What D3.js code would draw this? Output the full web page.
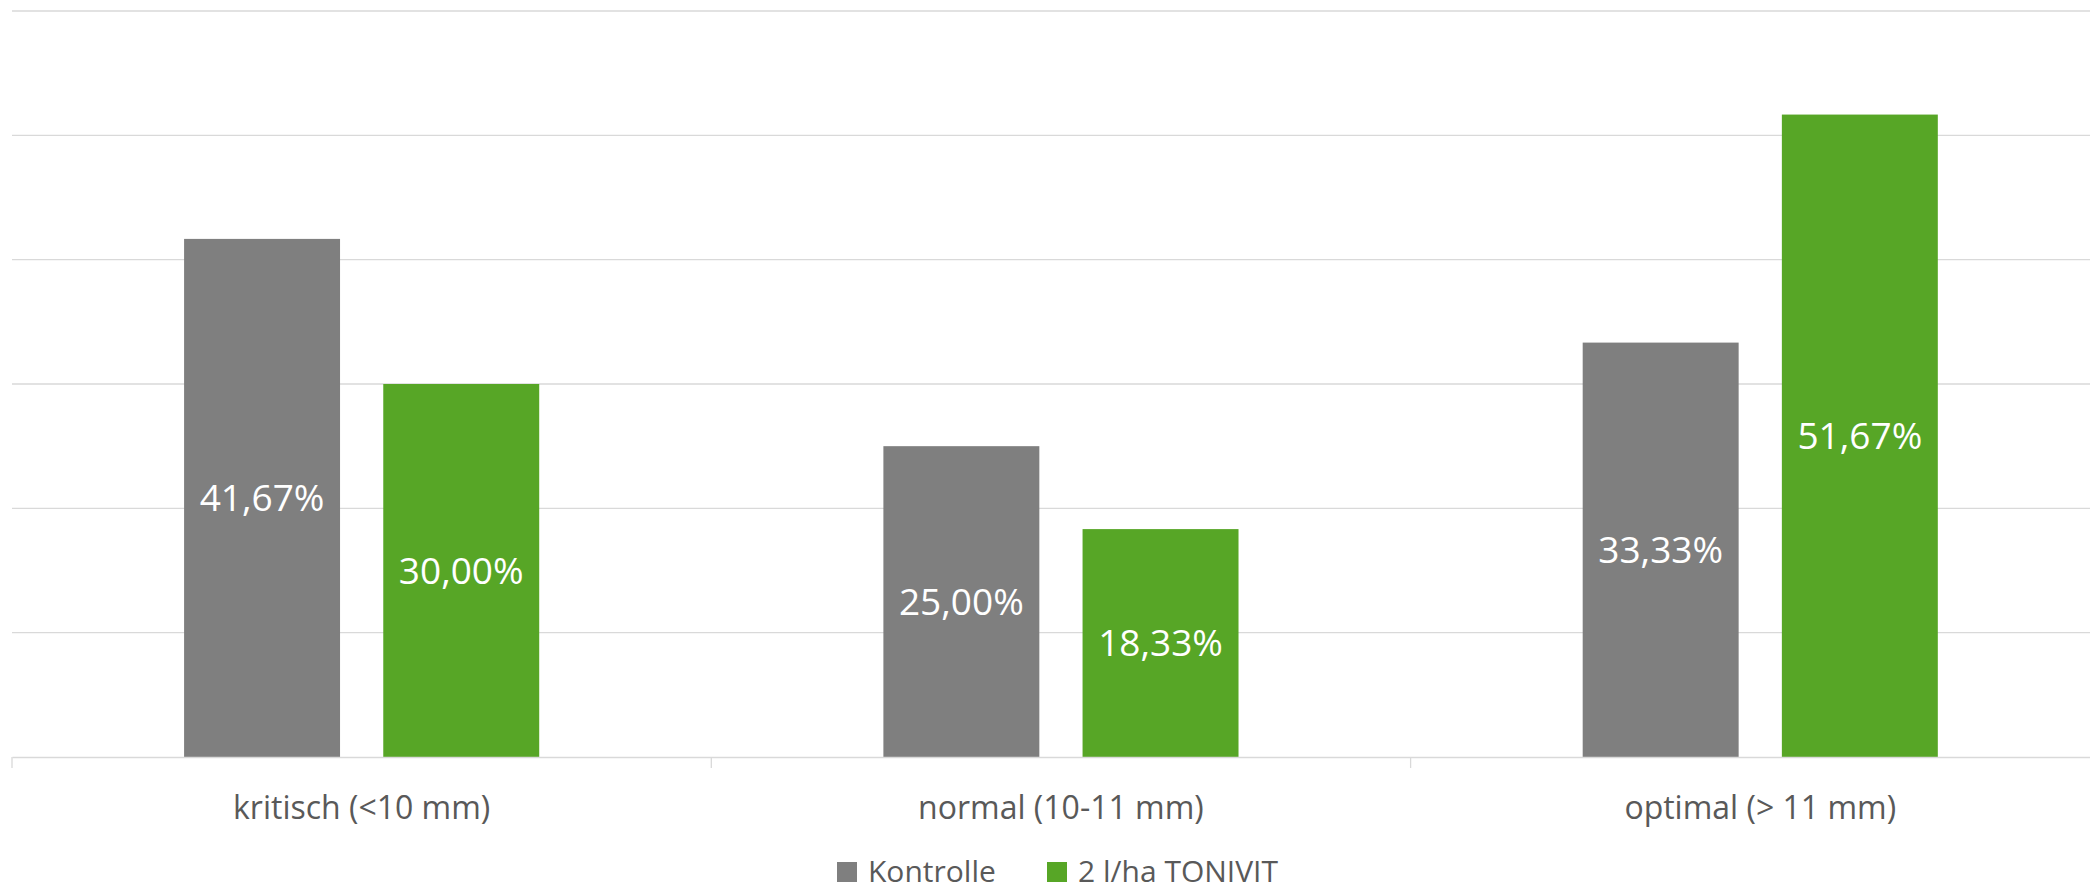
<!DOCTYPE html>
<html>
<head>
<meta charset="utf-8">
<script src="https://cdn.jsdelivr.net/npm/d3@7"></script>
<style>
  html, body { margin: 0; padding: 0; background: #ffffff; }
  svg { display: block; }
</style>
</head>
<body>
<svg id="chart" width="2090" height="891"></svg>
<script>
// ---- data ----
const categories = ["kritisch (<10 mm)", "normal (10-11 mm)", "optimal (> 11 mm)"];
const seriesNames = ["Kontrolle", "2 l/ha TONIVIT"];
const kontrolle = [0.4167, 0.25, 0.3333];
const tonivit = [0.30, 0.1833, 0.5167];
const labelsKontrolle = ["41,67%", "25,00%", "33,33%"];
const labelsTonivit = ["30,00%", "18,33%", "51,67%"];
const yTicks = [0, 0.1, 0.2, 0.3, 0.4, 0.5, 0.6];
const seriesColors = ["#7f7f7f", "#57a626"];

const seriesValues = [kontrolle, tonivit];
const seriesLabels = [labelsKontrolle, labelsTonivit];

const svg = d3.select("#chart");
const W = 2090;
const font = "'Open Sans', 'Noto Sans', sans-serif";
const textColor = "#595959";
const gridColor = "#d9d9d9";

const plotLeft = 12, bandW = 699.3;
const plotRight = plotLeft + bandW * categories.length; // extends past the visible edge
const y = d3.scaleLinear().domain([0, 0.6]).range([757, 11]);

const x0 = d3.scaleBand().domain(categories).range([plotLeft, plotRight]).paddingInner(0).paddingOuter(0);
const x1 = d3.scaleBand().domain(seriesNames).range([0, x0.bandwidth()]).paddingInner(0.217).paddingOuter(0.864);

// gridlines
svg.append("g")
  .selectAll("line")
  .data(yTicks.filter(d => d > 0))
  .join("line")
  .attr("x1", plotLeft).attr("x2", W)
  .attr("y1", d => y(d)).attr("y2", d => y(d))
  .attr("stroke", gridColor).attr("stroke-width", 1.3);

// bars
const groups = svg.append("g")
  .selectAll("g")
  .data(categories)
  .join("g")
  .attr("transform", d => `translate(${x0(d)},0)`);

groups.each(function(cat, ci) {
  const g = d3.select(this);
  seriesNames.forEach((s, si) => {
    const v = seriesValues[si][ci];
    g.append("rect")
      .attr("x", x1(s))
      .attr("y", y(v))
      .attr("width", x1.bandwidth())
      .attr("height", y(0) - y(v))
      .attr("fill", seriesColors[si]);
    g.append("text")
      .attr("x", x1(s) + x1.bandwidth() / 2)
      .attr("y", (y(v) + y(0)) / 2)
      .attr("dy", "0.36em")
      .attr("text-anchor", "middle")
      .attr("font-family", font)
      .attr("font-size", 37)
      .attr("fill", "#ffffff")
      .text(seriesLabels[si][ci]);
  });
});

// x axis
const xAxis = d3.axisBottom(x0).tickSize(0).tickSizeOuter(0);
const axisG = svg.append("g").attr("transform", `translate(0,${y(0)})`).call(xAxis);
axisG.select(".domain").attr("stroke", gridColor).attr("stroke-width", 1.3);
axisG.selectAll(".tick text")
  .attr("y", 0)
  .attr("dy", 0)
  .attr("transform", "translate(0,61.5)")
  .attr("font-family", font)
  .attr("font-size", 32)
  .attr("fill", textColor);
// category boundary ticks
const boundaries = d3.range(categories.length + 1).map(i => x0.range()[0] + i * x0.step());
svg.append("g").selectAll("line")
  .data(boundaries)
  .join("line")
  .attr("x1", d => d).attr("x2", d => d)
  .attr("y1", y(0)).attr("y2", y(0) + 11)
  .attr("stroke", gridColor).attr("stroke-width", 1.3);

// legend
const legend = svg.append("g");
const legendX = [837, 1047];
seriesNames.forEach((s, i) => {
  legend.append("rect")
    .attr("x", legendX[i]).attr("y", 862)
    .attr("width", 20).attr("height", 20)
    .attr("fill", seriesColors[i]);
  legend.append("text")
    .attr("x", legendX[i] + 31).attr("y", 881.5)
    .attr("font-family", font)
    .attr("font-size", 30)
    .attr("fill", textColor)
    .text(s);
});
</script>
</body>
</html>
